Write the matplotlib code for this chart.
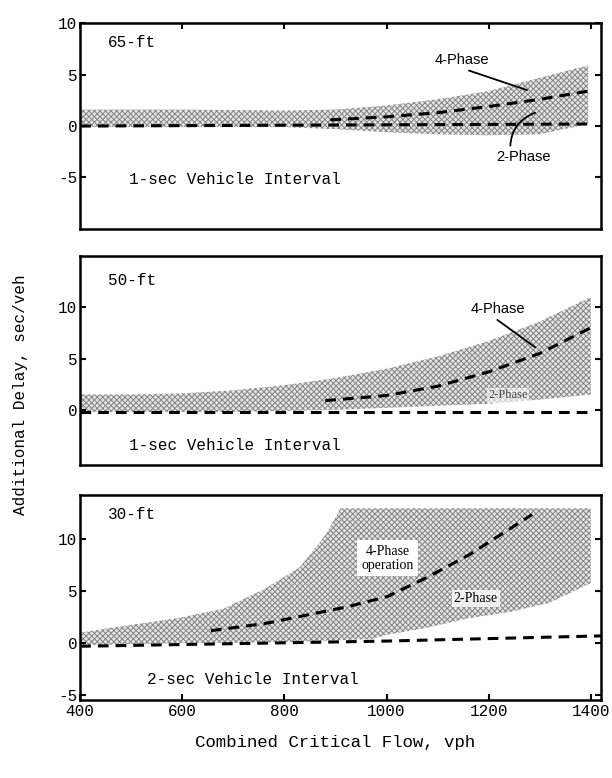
import numpy as np
import matplotlib
matplotlib.use("Agg")
import matplotlib.pyplot as plt

plt.rcParams["hatch.linewidth"] = 0.7
mono = "Liberation Mono"

# flow axis shared by all three panels (vph)
x_ticks = [400, 600, 800, 1000, 1200, 1400]

# 65-ft detector spacing
band65_flow = [400, 600, 800, 900, 1000, 1100, 1200, 1300, 1395]
band65_upper = [1.6, 1.6, 1.5, 1.6, 2.0, 2.6, 3.4, 4.7, 5.9]
band65_lower = [-0.1, -0.1, -0.1, -0.3, -0.6, -0.8, -0.9, -0.8, 0.2]
two65_flow = [400, 1400]
two65_delay = [0.0, 0.2]
four65_flow = [890, 1000, 1100, 1200, 1300, 1395]
four65_delay = [0.6, 0.9, 1.3, 1.9, 2.6, 3.4]

# 50-ft detector spacing
band50_flow = [400, 500, 600, 700, 800, 900, 1000, 1100, 1200, 1300, 1400]
band50_upper = [1.5, 1.5, 1.6, 1.9, 2.4, 3.1, 4.0, 5.2, 6.7, 8.6, 11.0]
band50_lower = [-0.2, -0.2, -0.2, -0.2, -0.1, 0.0, 0.2, 0.4, 0.6, 1.0, 1.5]
two50_flow = [400, 1400]
two50_delay = [-0.2, -0.2]
four50_flow = [880, 1000, 1100, 1200, 1300, 1400]
four50_delay = [0.9, 1.4, 2.3, 3.7, 5.5, 8.0]

# 30-ft detector spacing
band30_top_flow = [400, 450, 590, 680, 760, 830, 880, 910, 1400]
band30_top = [1.0, 1.4, 2.4, 3.3, 5.2, 7.3, 10.4, 13.0, 13.0]
band30_bot_flow = [400, 600, 800, 970, 1000, 1080, 1160, 1240, 1320, 1400]
band30_bot = [-0.2, 0.0, 0.1, 0.4, 0.8, 1.5, 2.4, 3.0, 3.9, 5.8]
two30_flow = [400, 1000, 1420]
two30_delay = [-0.3, 0.2, 0.7]
four30_flow = [656, 763, 843, 923, 1002, 1082, 1161, 1241, 1285]
four30_delay = [1.2, 1.9, 2.7, 3.5, 4.5, 6.4, 8.5, 11.0, 12.4]

fig = plt.figure(figsize=(6.12, 7.78), dpi=100)
ax1 = fig.add_axes([0.131, 0.706, 0.851, 0.264])
ax2 = fig.add_axes([0.131, 0.402, 0.851, 0.269])
ax3 = fig.add_axes([0.131, 0.100, 0.851, 0.264])

band_style = dict(facecolor="#e4e4e4", edgecolor="#858585", hatch="xxxxxx", linewidth=0, zorder=1)
dash_style = dict(color="black", linewidth=2.2, dashes=(3.5, 2.3), zorder=3)
arrow = dict(arrowstyle="-", lw=1.3, shrinkA=1, shrinkB=0)


def frame(ax, ylim, yticks, top=False, bottom=False):
    ax.set_xlim(400, 1420)
    ax.set_ylim(*ylim)
    ax.set_yticks(yticks)
    ax.set_yticklabels([str(t) for t in yticks], fontfamily=mono, fontsize=11.5)
    ax.set_xticks(x_ticks)
    ax.tick_params(axis="y", direction="in", length=4, width=1.5, right=True, pad=2)
    ax.tick_params(axis="x", direction="in", length=4, width=1.5, top=top, bottom=bottom,
                   labelbottom=False)
    for s in ax.spines.values():
        s.set_linewidth(1.8)


# panel 1: 65-ft
ax1.fill_between(band65_flow, band65_lower, band65_upper, **band_style)
ax1.plot(two65_flow, two65_delay, **dash_style)
ax1.plot(four65_flow, four65_delay, **dash_style)
frame(ax1, (-10, 10), [-5, 0, 5, 10], top=True)
ax1.text(455, 7.7, "65-ft", fontfamily=mono, fontsize=11.5)
ax1.text(495, -5.6, "1-sec Vehicle Interval", fontfamily=mono, fontsize=11.5)
ax1.annotate("4-Phase", xy=(1275, 3.5), xytext=(1148, 6.4), fontsize=10.5,
             fontfamily="Liberation Sans", ha="center", va="center",
             arrowprops=dict(arrow, relpos=(0.45, 0.0)))
ax1.annotate("2-Phase", xy=(1291, 1.3), xytext=(1269, -3.0), fontsize=10.5,
             fontfamily="Liberation Sans", ha="center", va="center",
             arrowprops=dict(arrow, relpos=(0.25, 1.0), connectionstyle="arc3,rad=-0.35"))

# panel 2: 50-ft
ax2.fill_between(band50_flow, band50_lower, band50_upper, **band_style)
ax2.plot(two50_flow, two50_delay, **dash_style)
ax2.plot(four50_flow, four50_delay, **dash_style)
frame(ax2, (-5.4, 15), [0, 5, 10])
ax2.text(455, 12.2, "50-ft", fontfamily=mono, fontsize=11.5)
ax2.text(495, -3.9, "1-sec Vehicle Interval", fontfamily=mono, fontsize=11.5)
ax2.annotate("4-Phase", xy=(1291, 6.1), xytext=(1218, 9.8), fontsize=10.5,
             fontfamily="Liberation Sans", ha="center", va="center",
             arrowprops=dict(arrow, relpos=(0.4, 0.0)))
ax2.text(1238, 1.4, "2-Phase", fontsize=9, fontfamily="Liberation Serif",
         color="#444444", ha="center", va="center", zorder=4,
         bbox=dict(facecolor="white", edgecolor="none", pad=1, alpha=0.6))

# panel 3: 30-ft
ax3.fill(band30_top_flow + band30_bot_flow[::-1], band30_top + band30_bot[::-1], **band_style)
ax3.plot(two30_flow, two30_delay, **dash_style)
ax3.plot(four30_flow, four30_delay, **dash_style)
frame(ax3, (-5.5, 14.3), [-5, 0, 5, 10], bottom=True)
ax3.tick_params(axis="x", labelbottom=True, labelsize=11.5, pad=3)
for lab in ax3.get_xticklabels():
    lab.set_fontfamily(mono)
ax3.text(455, 12.0, "30-ft", fontfamily=mono, fontsize=11.5)
ax3.text(530, -3.9, "2-sec Vehicle Interval", fontfamily=mono, fontsize=11.5)
ax3.text(1002, 8.2, "4-Phase\noperation", fontsize=10, fontfamily="Liberation Serif",
         ha="center", va="center", linespacing=1.1, zorder=4,
         bbox=dict(facecolor="white", edgecolor="none", pad=3))
ax3.text(1175, 4.3, "2-Phase", fontsize=10, fontfamily="Liberation Serif",
         ha="center", va="center", zorder=4,
         bbox=dict(facecolor="white", edgecolor="none", pad=1.5, alpha=0.8))

fig.text(0.033, 1 - 395 / 778, "Additional Delay, sec/veh", rotation=90,
         fontfamily=mono, fontsize=11.5, ha="center", va="center")
fig.text(335 / 612, 1 - 742 / 778, "Combined Critical Flow, vph",
         fontfamily=mono, fontsize=12.5, ha="center", va="center")

fig.savefig("out.png", dpi=100)
